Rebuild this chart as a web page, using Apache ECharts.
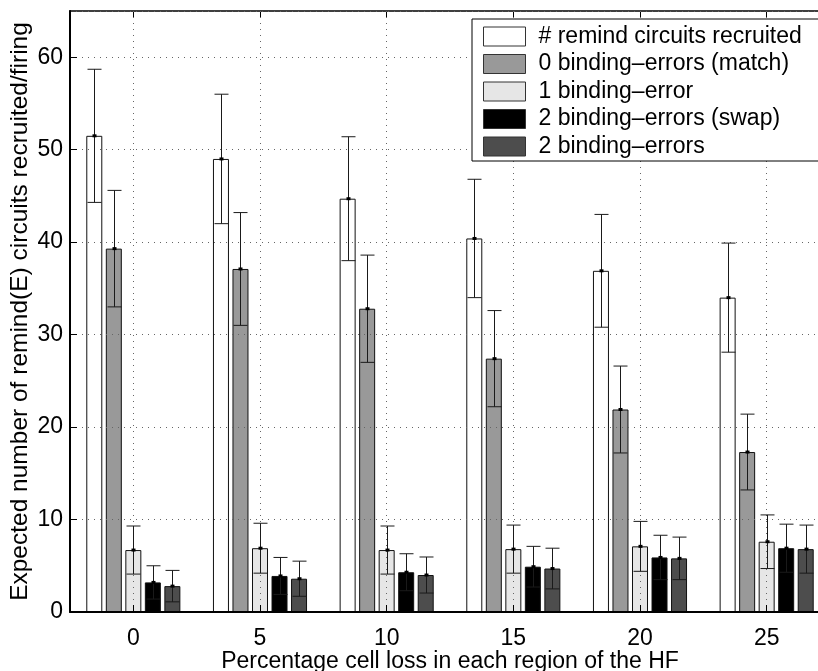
<!DOCTYPE html>
<html>
<head>
<meta charset="utf-8">
<script src="https://cdn.jsdelivr.net/npm/echarts@6/dist/echarts.min.js"></script>
<style>
html, body { margin: 0; padding: 0; background: #fff; }
#chart { width: 818px; height: 671px; }
</style>
</head>
<body>
<div id="chart"></div>
<script>
// cell loss (%) per region
const categories = ['0', '5', '10', '15', '20', '25'];
const seriesNames = [
    '# remind circuits recruited',
    '0 binding\u2013errors (match)',
    '1 binding\u2013error',
    '2 binding\u2013errors (swap)',
    '2 binding\u2013errors'
];
const recruitedMean = [51.5, 49.0, 44.7, 40.4, 36.9, 34.0];
const recruitedStd = [7.2, 7.0, 6.7, 6.4, 6.1, 5.9];
const matchMean = [39.3, 37.1, 32.8, 27.4, 21.9, 17.3];
const matchStd = [6.3, 6.1, 5.8, 5.2, 4.7, 4.1];
const oneErrMean = [6.7, 6.9, 6.7, 6.8, 7.1, 7.6];
const oneErrStd = [2.6, 2.7, 2.6, 2.6, 2.7, 2.9];
const swapMean = [3.2, 3.9, 4.3, 4.9, 5.9, 6.9];
const swapStd = [1.8, 2.0, 2.0, 2.2, 2.4, 2.6];
const twoErrMean = [2.8, 3.6, 4.0, 4.7, 5.8, 6.8];
const twoErrStd = [1.7, 1.9, 1.95, 2.2, 2.3, 2.6];

const means = [recruitedMean, matchMean, oneErrMean, swapMean, twoErrMean];
const stds = [recruitedStd, matchStd, oneErrStd, swapStd, twoErrStd];
const colors = ['#ffffff', '#999999', '#e6e6e6', '#000000', '#4d4d4d'];

const FONT = 'Liberation Sans, Arial, Helvetica, sans-serif';
const BAR_W = 16;
const BAR_GAP = 0.22;
const BAR_STEP = BAR_W * (1 + BAR_GAP);

let chart = echarts.init(document.getElementById('chart'), null, { renderer: 'canvas' });

let barSeries = means.map((m, idx) => {
    return {
        name: seriesNames[idx],
        type: 'bar',
        data: m,
        barWidth: BAR_W,
        barGap: (BAR_GAP * 100) + '%',
        itemStyle: {
            color: colors[idx],
            borderColor: '#111',
            borderWidth: 1
        },
        emphasis: { disabled: true },
        z: 2
    };
});

// error bar rows: [category index, series index, mean, std]
let errRows = [];
means.forEach((m, s) => {
    m.forEach((v, c) => {
        errRows.push([c, s, v, stds[s][c]]);
    });
});

let errSeries = {
    type: 'custom',
    data: errRows,
    z: 5,
    silent: true,
    renderItem: function(params, api) {
        const c = api.value(0);
        const s = api.value(1);
        const mean = api.value(2);
        const sd = api.value(3);
        const center = api.coord([c, mean]);
        const lo = api.coord([c, mean - sd]);
        const hi = api.coord([c, mean + sd]);
        const x = Math.round(center[0] + (s - 2) * BAR_STEP) + 0.5;
        const cap = 7;
        const st = { stroke: '#1a1a1a', lineWidth: 1 };
        return {
            type: 'group',
            children: [
                { type: 'line', shape: { x1: x, y1: lo[1], x2: x, y2: hi[1] }, style: st },
                { type: 'line', shape: { x1: x - cap, y1: lo[1], x2: x + cap, y2: lo[1] }, style: st },
                { type: 'line', shape: { x1: x - cap, y1: hi[1], x2: x + cap, y2: hi[1] }, style: st },
                { type: 'rect', shape: { x: x - 2, y: center[1] - 1.5, width: 4, height: 3 }, style: { fill: '#000' } }
            ]
        };
    }
};

let options = {
    animation: false,
    backgroundColor: '#fff',
    textStyle: { fontFamily: FONT },
    grid: {
        left: 70,
        right: -12,
        top: 11,
        bottom: 59,
        outerBoundsMode: 'none',
        containLabel: false
    },
    legend: {
        data: seriesNames,
        orient: 'vertical',
        left: 472,
        top: 19,
        padding: [6, 30, 3, 11],
        itemWidth: 42,
        itemHeight: 19,
        itemGap: 4.5,
        icon: 'rect',
        backgroundColor: '#fff',
        borderColor: '#000',
        borderWidth: 1,
        borderRadius: 0,
        itemStyle: { borderColor: '#333', borderWidth: 1 },
        textStyle: {
            fontFamily: FONT,
            fontSize: 23,
            color: '#000',
            padding: [0, 0, 0, 8]
        },
        selectedMode: false,
        z: 10
    },
    xAxis: [
        {
            type: 'category',
            data: categories,
            position: 'bottom',
            name: 'Percentage cell loss in each region of the HF',
            nameLocation: 'middle',
            nameGap: 38,
            nameMoveOverlap: false,
            nameTextStyle: { fontFamily: FONT, fontSize: 23, color: '#000' },
            axisLine: { lineStyle: { color: '#000', width: 2 } },
            axisTick: { show: true, inside: true, alignWithLabel: true, length: 7, lineStyle: { color: '#000' } },
            axisLabel: { fontFamily: FONT, fontSize: 23, color: '#000', margin: 15 },
            splitLine: {
                show: true,
                alignWithLabel: true,
                lineStyle: { color: '#666', type: [1, 5], width: 1 }
            },
            z: 3
        },
        {
            type: 'category',
            data: categories,
            position: 'top',
            axisLine: { show: true, lineStyle: { color: '#000', width: 1.5 } },
            axisTick: { show: true, inside: true, alignWithLabel: true, length: 7, lineStyle: { color: '#000' } },
            axisLabel: { show: false },
            splitLine: { show: false }
        }
    ],
    yAxis: {
        type: 'value',
        min: 0,
        max: 65,
        interval: 10,
        name: 'Expected number of remind(E) circuits recruited/firing',
        nameLocation: 'middle',
        nameGap: 37,
        nameMoveOverlap: false,
        nameTextStyle: { fontFamily: FONT, fontSize: 24.5, color: '#000' },
        axisLine: { show: true, lineStyle: { color: '#000', width: 2 } },
        axisTick: { show: true, inside: true, length: 7, lineStyle: { color: '#000' } },
        axisLabel: { fontFamily: FONT, fontSize: 23, color: '#000', margin: 7, showMaxLabel: false },
        splitLine: {
            show: true,
            lineStyle: { color: '#666', type: [1, 5], width: 1 }
        },
        z: 3
    },
    series: barSeries.concat([errSeries])
};

chart.setOption(options);
</script>
</body>
</html>
